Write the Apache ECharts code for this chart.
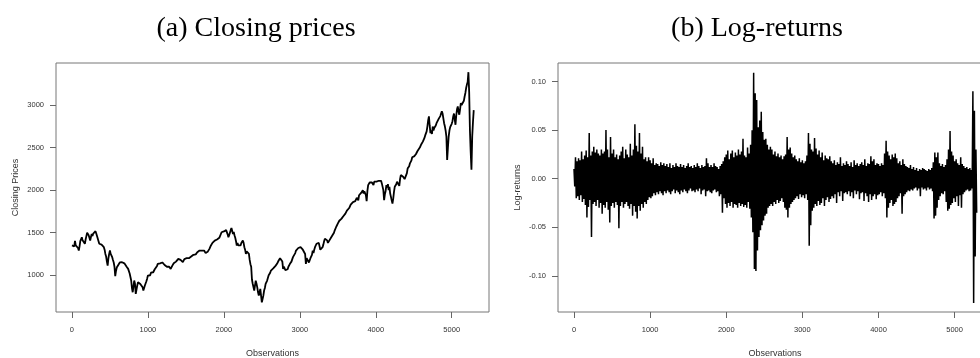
<!DOCTYPE html>
<html>
<head>
<meta charset="utf-8">
<style>
  html, body { margin: 0; padding: 0; background: #ffffff; }
  #chart { width: 980px; height: 358px; }
</style>
<script src="https://cdn.jsdelivr.net/npm/echarts@6/dist/echarts.min.js"></script>
</head>
<body>
<div id="chart"></div>
<script>
// Daily index closing prices, one value every 10 observations (observation 0, 10, 20, ...)
const priceStep = 10;
const priceVals = [
  1350, 1330, 1370, 1340, 1405, 1350, 1330, 1360, 1320, 1290, 1340, 1400, 1380, 1446, 1410, 1430, 1390, 1370, 1420, 1460,
  1500, 1517, 1470, 1440, 1407, 1450, 1485, 1460, 1490, 1470, 1500, 1517, 1490, 1460, 1446, 1400, 1370, 1348, 1390, 1360,
  1380, 1369, 1330, 1300, 1250, 1220, 1160, 1113, 1200, 1250, 1290, 1250, 1230, 1212, 1180, 1150, 1100, 990, 1050, 1090,
  1095, 1120, 1110, 1150, 1140, 1160, 1153, 1130, 1150, 1140, 1134, 1120, 1100, 1110, 1075, 1060, 1020, 980, 938, 850,
  800, 870, 938, 900, 781, 830, 880, 918, 900, 930, 898, 900, 880, 860, 820, 850, 880, 898, 930, 960,
  996, 990, 1010, 1000, 1030, 1020, 1040, 1035, 1050, 1070, 1060, 1090, 1110, 1134, 1120, 1153, 1140, 1130, 1145, 1150,
  1134, 1140, 1120, 1110, 1130, 1100, 1095, 1110, 1100, 1080, 1075, 1090, 1110, 1120, 1140, 1153, 1140, 1160, 1180, 1175,
  1192, 1185, 1195, 1180, 1170, 1160, 1153, 1170, 1190, 1200, 1212, 1200, 1220, 1210, 1200, 1192, 1210, 1220, 1231, 1225,
  1240, 1235, 1250, 1245, 1260, 1270, 1265, 1280, 1290, 1285, 1295, 1290, 1280, 1295, 1290, 1270, 1260, 1250, 1270, 1280,
  1300, 1310, 1330, 1350, 1369, 1380, 1370, 1390, 1407, 1400, 1410, 1420, 1410, 1430, 1440, 1446, 1460, 1505, 1490, 1510,
  1515, 1524, 1500, 1530, 1510, 1480, 1446, 1470, 1500, 1530, 1556, 1540, 1485, 1510, 1470, 1440, 1400, 1348, 1380, 1350,
  1330, 1369, 1350, 1380, 1400, 1407, 1380, 1330, 1300, 1250, 1280, 1270, 1260, 1250, 1180, 1130, 1100, 950, 900, 880,
  819, 880, 937, 900, 858, 800, 760, 800, 839, 760, 681, 720, 760, 820, 850, 898, 920, 937, 960, 1000,
  1016, 1030, 1055, 1050, 1070, 1080, 1094, 1100, 1110, 1120, 1134, 1150, 1170, 1190, 1200, 1213, 1190, 1160, 1075, 1100,
  1080, 1060, 1055, 1080, 1070, 1100, 1120, 1134, 1140, 1160, 1180, 1213, 1200, 1230, 1260, 1290, 1270, 1300, 1320, 1339,
  1320, 1330, 1310, 1330, 1300, 1320, 1290, 1250, 1134, 1200, 1193, 1180, 1150, 1173, 1200, 1220, 1240, 1290, 1260, 1300,
  1330, 1350, 1370, 1360, 1390, 1380, 1340, 1300, 1290, 1310, 1330, 1360, 1400, 1430, 1449, 1420, 1410, 1380, 1390, 1410,
  1420, 1440, 1449, 1470, 1490, 1500, 1528, 1550, 1570, 1590, 1606, 1620, 1640, 1630, 1650, 1665, 1680, 1690, 1700, 1710,
  1724, 1740, 1760, 1750, 1783, 1790, 1800, 1830, 1843, 1830, 1860, 1870, 1882, 1870, 1890, 1910, 1921, 1880, 1940, 1961,
  1950, 1970, 1990, 2000, 1960, 1985, 1980, 1940, 1870, 1990, 2059, 2070, 2090, 2098, 2070, 2090, 2079, 2060, 2100, 2110,
  2110, 2100, 2080, 2118, 2110, 2120, 2100, 2110, 2079, 2090, 2000, 1882, 1950, 1990, 2059, 2030, 2070, 2000, 2040, 1960,
  1921, 1880, 1843, 1900, 1980, 2039, 2060, 2070, 2098, 2080, 2090, 2050, 2130, 2177, 2170, 2160, 2157, 2140, 2130, 2118,
  2150, 2200, 2256, 2270, 2280, 2315, 2330, 2350, 2386, 2370, 2390, 2400, 2390, 2425, 2440, 2460, 2470, 2480, 2500, 2520,
  2540, 2551, 2570, 2590, 2610, 2640, 2660, 2690, 2750, 2820, 2866, 2760, 2669, 2700, 2660, 2748, 2700, 2730, 2728, 2760,
  2787, 2800, 2810, 2840, 2827, 2870, 2900, 2925, 2900, 2880, 2787, 2750, 2700, 2630, 2354, 2500, 2630, 2700, 2740, 2748,
  2780, 2810, 2866, 2900, 2830, 2768, 2880, 2950, 2984, 2920, 2886, 2950, 3024, 3000, 2990, 2984, 3050, 3100, 3142, 3200,
  3240, 3270, 3386, 3150, 2700, 2450, 2240, 2630, 2800, 2940
];

// Daily log-returns, read as the upper and lower extremes of each block of 20 observations
const retStep = 20;
const retHigh = [
  0.010, 0.022, 0.018, 0.021, 0.019, 0.028, 0.020, 0.024, 0.029, 0.022,
  0.047, 0.024, 0.028, 0.033, 0.027, 0.030, 0.026, 0.024, 0.030, 0.026,
  0.028, 0.050, 0.030, 0.022, 0.043, 0.026, 0.030, 0.022, 0.025, 0.020,
  0.024, 0.028, 0.033, 0.021, 0.030, 0.025, 0.022, 0.036, 0.024, 0.030,
  0.056, 0.034, 0.028, 0.047, 0.026, 0.033, 0.020, 0.022, 0.018, 0.022,
  0.019, 0.016, 0.021, 0.014, 0.016, 0.015, 0.013, 0.017, 0.014, 0.016,
  0.013, 0.015, 0.012, 0.016, 0.011, 0.014, 0.012, 0.016, 0.013, 0.012,
  0.015, 0.012, 0.014, 0.011, 0.013, 0.016, 0.012, 0.013, 0.011, 0.014,
  0.012, 0.016, 0.013, 0.011, 0.014, 0.012, 0.013, 0.021, 0.016, 0.012,
  0.014, 0.012, 0.016, 0.013, 0.012, 0.010, 0.013, 0.015, 0.018, 0.022,
  0.025, 0.029, 0.020, 0.026, 0.029, 0.022, 0.027, 0.024, 0.030, 0.025,
  0.028, 0.041, 0.024, 0.022, 0.032, 0.026, 0.035, 0.050, 0.109, 0.088,
  0.081, 0.053, 0.060, 0.069, 0.048, 0.040, 0.041, 0.035, 0.030, 0.033,
  0.030, 0.025, 0.028, 0.023, 0.026, 0.022, 0.024, 0.020, 0.023, 0.025,
  0.043, 0.030, 0.032, 0.026, 0.022, 0.024, 0.020, 0.018, 0.021, 0.017,
  0.019, 0.016, 0.018, 0.024, 0.047, 0.036, 0.030, 0.028, 0.042, 0.031,
  0.025, 0.029, 0.022, 0.027, 0.019, 0.024, 0.021, 0.020, 0.023, 0.018,
  0.016, 0.019, 0.014, 0.017, 0.015, 0.022, 0.013, 0.016, 0.014, 0.018,
  0.015, 0.013, 0.017, 0.012, 0.019, 0.014, 0.016, 0.013, 0.015, 0.017,
  0.014, 0.020, 0.013, 0.016, 0.015, 0.023, 0.018, 0.020, 0.014, 0.016,
  0.015, 0.013, 0.016, 0.014, 0.026, 0.039, 0.028, 0.024, 0.020, 0.025,
  0.022, 0.026, 0.021, 0.016, 0.018, 0.014, 0.020, 0.015, 0.013, 0.012,
  0.011, 0.014, 0.010, 0.012, 0.009, 0.011, 0.008, 0.010, 0.009, 0.011,
  0.010, 0.009, 0.008, 0.010, 0.009, 0.011, 0.017, 0.027, 0.022, 0.027,
  0.016, 0.013, 0.015, 0.012, 0.014, 0.020, 0.030, 0.049, 0.028, 0.024,
  0.018, 0.020, 0.016, 0.014, 0.022, 0.015, 0.013, 0.011, 0.012, 0.010,
  0.011, 0.009, 0.090, 0.070, 0.030
];
const retLow = [
  -0.008, -0.020, -0.018, -0.022, -0.017, -0.024, -0.021, -0.027, -0.040, -0.029,
  -0.022, -0.060, -0.026, -0.024, -0.028, -0.022, -0.030, -0.025, -0.036, -0.027,
  -0.030, -0.024, -0.032, -0.045, -0.028, -0.025, -0.030, -0.024, -0.027, -0.051,
  -0.028, -0.024, -0.030, -0.026, -0.024, -0.028, -0.031, -0.026, -0.038, -0.028,
  -0.034, -0.041, -0.028, -0.033, -0.026, -0.030, -0.024, -0.026, -0.022, -0.019,
  -0.020, -0.018, -0.015, -0.017, -0.014, -0.016, -0.013, -0.015, -0.017, -0.013,
  -0.015, -0.012, -0.014, -0.016, -0.013, -0.011, -0.015, -0.012, -0.014, -0.016,
  -0.012, -0.014, -0.011, -0.013, -0.015, -0.012, -0.010, -0.013, -0.012, -0.014,
  -0.011, -0.013, -0.010, -0.016, -0.012, -0.011, -0.018, -0.013, -0.012, -0.014,
  -0.015, -0.012, -0.011, -0.014, -0.013, -0.018, -0.016, -0.035, -0.020, -0.026,
  -0.030, -0.025, -0.028, -0.024, -0.030, -0.026, -0.027, -0.030, -0.025, -0.028,
  -0.026, -0.029, -0.027, -0.030, -0.024, -0.031, -0.040, -0.055, -0.093, -0.095,
  -0.074, -0.060, -0.053, -0.048, -0.043, -0.038, -0.036, -0.030, -0.028, -0.026,
  -0.028, -0.024, -0.026, -0.022, -0.025, -0.023, -0.020, -0.024, -0.030, -0.032,
  -0.040, -0.030, -0.026, -0.024, -0.022, -0.020, -0.018, -0.021, -0.016, -0.019,
  -0.017, -0.020, -0.016, -0.022, -0.069, -0.048, -0.033, -0.030, -0.026, -0.028,
  -0.023, -0.027, -0.025, -0.020, -0.028, -0.022, -0.019, -0.024, -0.021, -0.018,
  -0.020, -0.016, -0.025, -0.014, -0.018, -0.013, -0.023, -0.015, -0.014, -0.016,
  -0.013, -0.018, -0.014, -0.020, -0.012, -0.016, -0.013, -0.021, -0.015, -0.014,
  -0.023, -0.015, -0.018, -0.024, -0.016, -0.022, -0.018, -0.016, -0.021, -0.017,
  -0.016, -0.014, -0.018, -0.015, -0.020, -0.040, -0.030, -0.025, -0.022, -0.028,
  -0.026, -0.024, -0.020, -0.018, -0.015, -0.036, -0.018, -0.016, -0.014, -0.012,
  -0.013, -0.011, -0.012, -0.010, -0.009, -0.012, -0.010, -0.018, -0.009, -0.011,
  -0.010, -0.012, -0.009, -0.011, -0.010, -0.013, -0.041, -0.038, -0.030, -0.022,
  -0.018, -0.015, -0.016, -0.013, -0.024, -0.033, -0.031, -0.027, -0.025, -0.020,
  -0.024, -0.018, -0.028, -0.017, -0.030, -0.016, -0.014, -0.012, -0.011, -0.013,
  -0.012, -0.010, -0.128, -0.080, -0.035
];

const obsTicks = [0, 1000, 2000, 3000, 4000, 5000];
const priceTicks = [1000, 1500, 2000, 2500, 3000];
const returnTicks = [-0.10, -0.05, 0.00, 0.05, 0.10];

const titleA = '(a) Closing prices';
const titleB = '(b) Log-returns';

const priceData = priceVals.map((v, i) => [i * priceStep, v]);
const returnData = [];
retHigh.forEach((h, i) => {
  returnData.push([i * retStep, h]);
  returnData.push([i * retStep + retStep / 2, retLow[i]]);
});

const tickFont = { fontFamily: 'Liberation Sans, Arial, sans-serif', fontSize: 7.5, color: '#333' };
const nameFont = { fontFamily: 'Liberation Sans, Arial, sans-serif', fontSize: 9, color: '#333' };

function xAxisFor(gridIndex) {
  return {
    type: 'value', gridIndex, min: -210, max: 5491,
    axisLine: { show: false, onZero: false },
    axisTick: { show: true, length: 6, customValues: obsTicks, lineStyle: { color: '#666', width: 1 } },
    axisLabel: Object.assign({ customValues: obsTicks, margin: 14, formatter: v => String(v) }, tickFont),
    splitLine: { show: false },
    name: 'Observations', nameLocation: 'middle', nameGap: 37, nameTextStyle: nameFont
  };
}

function yAxisFor(gridIndex, min, max, ticks, fmt, name) {
  return {
    type: 'value', gridIndex, min, max,
    axisLine: { show: false, onZero: false },
    axisTick: { show: true, length: 6, customValues: ticks, lineStyle: { color: '#666', width: 1 } },
    axisLabel: Object.assign({ customValues: ticks, margin: 12, formatter: fmt }, tickFont),
    splitLine: { show: false },
    name, nameLocation: 'middle', nameGap: 36, nameTextStyle: nameFont
  };
}

const chart = echarts.init(document.getElementById('chart'), null, { renderer: 'canvas' });
chart.setOption({
  animation: false,
  backgroundColor: '#ffffff',
  graphic: [
    { type: 'text', x: 256, y: 29, style: { text: titleA, fill: '#000', font: '28px "Liberation Serif"', align: 'center', verticalAlign: 'middle' } },
    { type: 'text', x: 757, y: 29, style: { text: titleB, fill: '#000', font: '28px "Liberation Serif"', align: 'center', verticalAlign: 'middle' } }
  ],
  grid: [
    { left: 56, top: 63, width: 433, height: 249, outerBoundsMode: 'none', containLabel: false,
      show: true, borderColor: '#777', borderWidth: 1, backgroundColor: 'transparent' },
    { left: 558, top: 63, width: 434, height: 249, outerBoundsMode: 'none', containLabel: false,
      show: true, borderColor: '#777', borderWidth: 1, backgroundColor: 'transparent' }
  ],
  xAxis: [xAxisFor(0), xAxisFor(1)],
  yAxis: [
    yAxisFor(0, 568, 3494, priceTicks, v => String(v), 'Closing Prices'),
    yAxisFor(1, -0.1372, 0.1191, returnTicks, v => v.toFixed(2), 'Log-returns')
  ],
  series: [
    { type: 'line', xAxisIndex: 0, yAxisIndex: 0, data: priceData, showSymbol: false, symbol: 'none',
      lineStyle: { color: '#000', width: 1.8 }, silent: true, sampling: null },
    { type: 'line', xAxisIndex: 1, yAxisIndex: 1, data: returnData, showSymbol: false, symbol: 'none',
      lineStyle: { color: '#000', width: 1.5 }, silent: true, sampling: null }
  ]
});
</script>
</body>
</html>
